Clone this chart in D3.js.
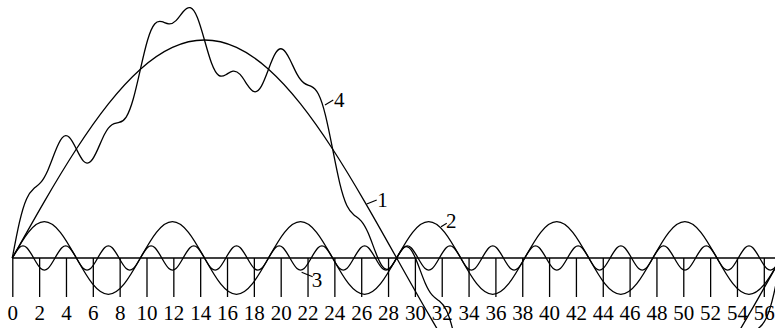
<!DOCTYPE html>
<html>
<head>
<meta charset="utf-8">
<script src="https://cdn.jsdelivr.net/npm/d3@7"></script>
<style>
  html, body { margin: 0; padding: 0; background: #fff; }
  svg { display: block; }
  text { font-family: "Liberation Serif", "Times New Roman", serif; fill: #000; }
</style>
</head>
<body>
<div id="chart"></div>
<script>
// Tick labels along the time axis
const tickValues = d3.range(0, 57, 2);

// Sampling steps (x units) of each curve's stored values
const step1 = 2.3867;   // curve 1
const step2 = 1.1933;   // curve 2
const step3 = 0.5304;   // curves 3 and 4

// Curve 1: fundamental
const curve1 = [0, 4.66, 9, 12.73, 15.59, 17.39, 18, 17.39, 15.59, 12.73, 9, 4.66, 0,
  -4.66, -9, -12.73, -15.59, -17.39, -18, -17.39, -15.59, -12.73, -9, -4.66, 0];

// Curve 2: sixth harmonic
const curve2 = [0, 2.12, 3, 2.12, 0, -2.12, -3, -2.12,
  0, 2.12, 3, 2.12, 0, -2.12, -3, -2.12,
  0, 2.12, 3, 2.12, 0, -2.12, -3, -2.12,
  0, 2.12, 3, 2.12, 0, -2.12, -3, -2.12,
  0, 2.12, 3, 2.12, 0, -2.12, -3, -2.12,
  0, 2.12, 3, 2.12, 0, -2.12, -3, -2.12, 0];

// Curve 3: eighteenth harmonic
const curve3 = [0, 0.87, 0.87, 0, -0.87, -0.87, 0, 0.87, 0.87, 0, -0.87, -0.87,
  0, 0.87, 0.87, 0, -0.87, -0.87, 0, 0.87, 0.87, 0, -0.87, -0.87,
  0, 0.87, 0.87, 0, -0.87, -0.87, 0, 0.87, 0.87, 0, -0.87, -0.87,
  0, 0.87, 0.87, 0, -0.87, -0.87, 0, 0.87, 0.87, 0, -0.87, -0.87,
  0, 0.87, 0.87, 0, -0.87, -0.87, 0, 0.87, 0.87, 0, -0.87, -0.87,
  0, 0.87, 0.87, 0, -0.87, -0.87, 0, 0.87, 0.87, 0, -0.87, -0.87,
  0, 0.87, 0.87, 0, -0.87, -0.87, 0, 0.87, 0.87, 0, -0.87, -0.87,
  0, 0.87, 0.87, 0, -0.87, -0.87, 0, 0.87, 0.87, 0, -0.87, -0.87,
  0, 0.87, 0.87, 0, -0.87, -0.87, 0, 0.87, 0.87, 0, -0.87, -0.87, 0];

// Curve 4: resulting wave
const curve4 = [0, 2.94, 4.88, 5.72, 6.24, 7.25, 8.75, 9.92, 9.97, 9.0,
  8.0, 7.96, 8.97, 10.26, 11.0, 11.19, 11.64, 13.15, 15.59, 17.98,
  19.32, 19.51, 19.33, 19.6, 20.33, 20.67, 19.86, 18.0, 16.08, 15.08,
  15.13, 15.43, 15.16, 14.32, 13.73, 14.19, 15.59, 16.93, 17.23, 16.39,
  15.18, 14.44, 14.17, 13.54, 11.78, 9.0, 6.19, 4.34, 3.56, 3.07,
  2.06, 0.53, -0.7, -0.85, 0, 0.85, 0.7, -0.53, -2.06, -3.07,
  -3.56, -4.34, -6.19, -9.0, -11.78, -13.54, -14.17, -14.44, -15.18, -16.39,
  -17.23, -16.93, -15.59, -14.19, -13.73, -14.32, -15.16, -15.43, -15.13, -15.08,
  -16.08, -18.0, -19.86, -20.67, -20.33, -19.6, -19.33, -19.51, -19.32, -17.98,
  -15.59, -13.15, -11.64, -11.19, -11.0, -10.26, -8.97, -7.96, -8.0, -9.0,
  -9.97, -9.92, -8.75, -7.25, -6.24, -5.72, -4.88, -2.94, 0];

// Curve numbers and where their leaders touch the curves
const labelNames = ["1", "2", "3", "4"];
const labelX = [26.41, 31.95, 21.56, 23.3];
const labelY = [4.46, 2.58, -1.18, 12.63];

const W = 775, H = 328;
const svg = d3.select("#chart").append("svg")
  .attr("width", W).attr("height", H)
  .attr("viewBox", `0 0 ${W} ${H}`);

const x = d3.scaleLinear().domain([0, 56]).range([12.3, 763.8]);
const y = d3.scaleLinear().domain([0, 18]).range([258, 40]);

// axis: baseline, long downward ticks, numbers below
svg.append("line")
  .attr("x1", x(0)).attr("x2", W)
  .attr("y1", y(0)).attr("y2", y(0))
  .attr("stroke", "#000").attr("stroke-width", 1.4);

const axis = d3.axisBottom(x)
  .tickValues(tickValues)
  .tickFormat(d3.format("d"))
  .tickSizeInner(39)
  .tickSizeOuter(0)
  .tickPadding(8);

const gAxis = svg.append("g")
  .attr("transform", `translate(0,${y(0)})`)
  .call(axis);
gAxis.select(".domain").remove();
gAxis.selectAll(".tick line").attr("stroke", "#000").attr("stroke-width", 1.3);
gAxis.selectAll(".tick text")
  .attr("fill", "#000")
  .style("font-family", "'Liberation Serif', 'Times New Roman', serif")
  .style("font-size", "21px");

// curves
function drawCurve(values, step) {
  const line = d3.line()
    .x((d, i) => x(i * step))
    .y(d => y(d))
    .curve(d3.curveNatural);
  svg.append("path")
    .datum(values)
    .attr("d", line)
    .attr("fill", "none")
    .attr("stroke", "#000")
    .attr("stroke-width", 1.3);
}
drawCurve(curve1, step1);
drawCurve(curve2, step2);
drawCurve(curve3, step3);
drawCurve(curve4, step3);

// curve numbers with short leaders
const leaderOffsets = [[10, -4, 10.5, 3], [5.7, -3.4, 5, 1.5], [11, 4.4, 10, 14.7], [8.3, -5, 9, 2]];
labelNames.forEach((name, i) => {
  const px = x(labelX[i]), py = y(labelY[i]);
  const [lx, ly, tx, ty] = leaderOffsets[i];
  svg.append("line")
    .attr("x1", px).attr("y1", py)
    .attr("x2", px + lx).attr("y2", py + ly)
    .attr("stroke", "#000").attr("stroke-width", 1.2);
  svg.append("text")
    .attr("x", px + tx).attr("y", py + ty)
    .style("font-size", "21px")
    .text(name);
});
</script>
</body>
</html>
